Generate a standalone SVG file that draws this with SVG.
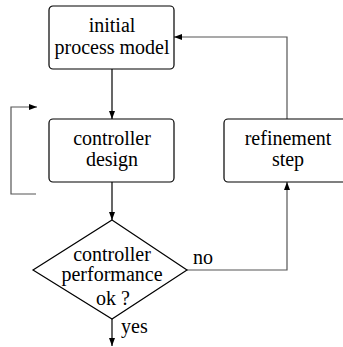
<svg xmlns="http://www.w3.org/2000/svg" width="343" height="347" viewBox="0 0 343 347">
  <style>
    .box { fill: #fff; stroke: #000; stroke-width: 1.2; }
    .lbl { font-family: 'Liberation Serif', 'Times New Roman', serif; font-size: 20px; fill: #000; text-anchor: middle; }
    .tag { font-family: 'Liberation Serif', 'Times New Roman', serif; font-size: 20px; fill: #000; }
    .edge { fill: none; stroke: #000; stroke-width: 1.2; }
    .edge.grey { stroke: #555; }
  </style>
  <defs>
    <marker id="arrow" viewBox="0 0 8 6" refX="8" refY="3" markerWidth="8" markerHeight="6" markerUnits="userSpaceOnUse" orient="auto">
      <path d="M0,0 L8,3 L0,6 Z" fill="#000"/>
    </marker>
  </defs>

  <rect width="343" height="347" fill="#fff"/>

  <!-- connectors: main column in black, loop lines in grey -->
  <g id="connectors">
    <path class="edge" d="M112,69 V119" marker-end="url(#arrow)"/>
    <path class="edge" d="M112,182 V220" marker-end="url(#arrow)"/>
    <path class="edge" d="M112,319 V346" marker-end="url(#arrow)"/>
    <path class="edge grey" d="M187,270 H287 V182" marker-end="url(#arrow)"/>
    <path class="edge grey" d="M287,119 V37 H174" marker-end="url(#arrow)"/>
    <path class="edge grey" d="M36,194 H11 V107 H37" marker-end="url(#arrow)"/>
    <text class="tag" x="193" y="264">no</text>
    <text class="tag" x="121" y="333">yes</text>
  </g>

  <g id="initial-model">
    <rect class="box" x="49" y="6" width="125" height="63" rx="4"/>
    <text class="lbl" x="112" y="32">initial</text>
    <text class="lbl" x="112" y="54">process model</text>
  </g>

  <g id="controller-design">
    <rect class="box" x="49" y="119" width="125" height="63" rx="4"/>
    <text class="lbl" x="112" y="145">controller</text>
    <text class="lbl" x="112" y="166">design</text>
  </g>

  <g id="performance-check">
    <path class="box" d="M112,220 L187,270 L112,319 L33,270 Z"/>
    <text class="lbl" x="112" y="261">controller</text>
    <text class="lbl" x="112" y="281">performance</text>
    <text class="lbl" x="113" y="305">ok ?</text>
  </g>

  <!-- right edge of this box runs past the canvas -->
  <g id="refinement-step">
    <rect class="box" x="224" y="119" width="126" height="63" rx="4"/>
    <text class="lbl" x="288" y="145">refinement</text>
    <text class="lbl" x="288" y="166">step</text>
  </g>
</svg>
